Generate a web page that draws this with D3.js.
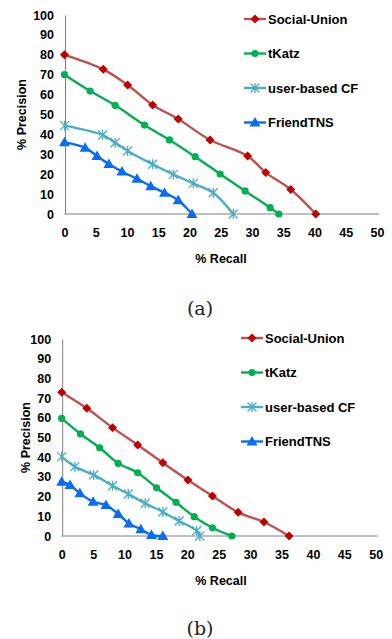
<!DOCTYPE html>
<html><head><meta charset="utf-8">
<script src="https://cdn.jsdelivr.net/npm/d3@7"></script>
<style>
html,body{margin:0;padding:0;background:#fff;}
svg{display:block;}
.tick text{font-family:"Liberation Sans",Arial,sans-serif;font-weight:bold;font-size:12.5px;fill:#000;}
</style></head>
<body>
<script>
// ---- data ----
const seriesNames = ["Social-Union", "tKatz", "user-based CF", "FriendTNS"];
const xTicks = [0,5,10,15,20,25,30,35,40,45,50];
const yTicks = [0,10,20,30,40,50,60,70,80,90,100];
const panelLabels = ["(a)", "(b)"];

// panel (a)
const aSocialRecall    = [0, 6.2, 10.1, 14.1, 18.2, 23.3, 29.3, 32.2, 36.2, 40.2];
const aSocialPrecision = [80, 72.7, 64.8, 54.8, 47.7, 37.2, 29.1, 20.8, 12.3, 0];
const aKatzRecall      = [0, 4.1, 8.1, 12.8, 16.8, 20.9, 24.9, 28.9, 32.9, 34.3];
const aKatzPrecision   = [70, 61.8, 54.6, 44.7, 37.2, 28.8, 20.1, 11.6, 3.2, 0];
const aCFRecall        = [0, 6.1, 8.1, 10.1, 14.1, 17.4, 20.6, 23.8, 27];
const aCFPrecision     = [44.4, 39.7, 35.8, 31.7, 25, 19.9, 15.4, 10.7, 0];
const aTNSRecall       = [0, 3.3, 5.2, 7.1, 9.2, 11.6, 13.8, 16, 18.2, 20.4];
const aTNSPrecision    = [36, 33.3, 29.1, 25.1, 21.3, 17.7, 14, 10.7, 6.9, 0];

// panel (b)
const bSocialRecall    = [0, 4.0, 8.1, 12.1, 16.1, 20.1, 24.0, 28.1, 32.2, 36.2];
const bSocialPrecision = [73, 64.8, 55, 46.2, 37.2, 28.4, 20.3, 12, 7.1, 0];
const bKatzRecall      = [0, 3.0, 6.05, 9.0, 12.1, 15.1, 18.2, 21.1, 24.0, 27.1];
const bKatzPrecision   = [59.7, 51.8, 44.8, 36.9, 32.1, 24.5, 17.1, 9.8, 4.2, 0];
const bCFRecall        = [0, 2.1, 5.1, 8.1, 10.6, 13.3, 16.1, 18.7, 21.5, 22.0];
const bCFPrecision     = [40.3, 35.2, 31, 25.5, 21.3, 16.6, 12.2, 7.6, 2.7, 0];
const bTNSRecall       = [0, 1.33, 2.9, 5.0, 7.05, 9.0, 10.7, 12.6, 14.3, 16.1];
const bTNSPrecision    = [27.6, 25.9, 21.7, 17.4, 15.7, 11.2, 6.4, 3.4, 0.5, 0];

// ---- styles ----
const lineColors   = ["#C0504D", "#00B050", "#4BACC6", "#0A6CF5"];
const markerColors = ["#C00000", "#00B050", "#4BACC6", "#0A6CF5"];
const markerTypes  = ["diamond", "circle", "star", "triangle"];

const W = 392, H = 639;
const svg = d3.select("body").append("svg").attr("width", W).attr("height", H);

const panels = [
  { x0: 64.5, x1: 377, y0: 214, y1: 15, leg: {x: 244, y: 19}, caption: {x: 200, y: 315},
    recall: [aSocialRecall, aKatzRecall, aCFRecall, aTNSRecall],
    precision: [aSocialPrecision, aKatzPrecision, aCFPrecision, aTNSPrecision] },
  { x0: 61.7, x1: 375.7, y0: 536, y1: 339, leg: {x: 241, y: 338}, caption: {x: 200, y: 635},
    recall: [bSocialRecall, bKatzRecall, bCFRecall, bTNSRecall],
    precision: [bSocialPrecision, bKatzPrecision, bCFPrecision, bTNSPrecision] }
];

function drawMarker(g, type, color, cx, cy) {
  if (type === "diamond") {
    g.append("path").attr("d", `M${cx},${cy-4.5}L${cx+4.5},${cy}L${cx},${cy+4.5}L${cx-4.5},${cy}Z`).attr("fill", color);
  } else if (type === "circle") {
    g.append("circle").attr("cx", cx).attr("cy", cy).attr("r", 3.6).attr("fill", color);
  } else if (type === "triangle") {
    g.append("path").attr("d", `M${cx},${cy-5.5}L${cx+5.5},${cy+4}L${cx-5.5},${cy+4}Z`).attr("fill", color);
  } else if (type === "star") {
    const r = 4.5;
    g.append("path").attr("d",
      `M${cx-r},${cy-r}L${cx+r},${cy+r}M${cx+r},${cy-r}L${cx-r},${cy+r}M${cx},${cy-r-0.5}L${cx},${cy+r+0.5}`)
      .attr("stroke", color).attr("stroke-width", 1.3).attr("fill", "none");
  }
}

panels.forEach((p, pi) => {
  const x = d3.scaleLinear().domain([0, 50]).range([p.x0, p.x1]);
  const y = d3.scaleLinear().domain([0, 100]).range([p.y0, p.y1]);
  const g = svg.append("g");

  // axes
  const ax = g.append("g").attr("transform", `translate(0,${p.y0})`)
    .call(d3.axisBottom(x).tickValues(xTicks).tickSize(0).tickPadding(14).tickFormat(d3.format("d")));
  ax.select(".domain").attr("stroke", "#808080").attr("d", `M${p.x0},0H${p.x1 + 2}`);
  const ay = g.append("g").attr("transform", `translate(${p.x0 + 0.5},0)`)
    .call(d3.axisLeft(y).tickValues(yTicks).tickSize(0).tickPadding(11).tickFormat(d3.format("d")));
  ay.select(".domain").attr("stroke", "#808080");

  // axis titles
  g.append("text").attr("x", 221).attr("y", p.y0 + 49)
    .attr("text-anchor", "middle").attr("font-family", "Liberation Sans, Arial, sans-serif")
    .attr("font-weight", "bold").attr("font-size", 12.5).text("% Recall");
  g.append("text").attr("transform", `translate(${pi === 0 ? 26 : 30},${(p.y0 + p.y1) / 2}) rotate(-90)`)
    .attr("text-anchor", "middle").attr("font-family", "Liberation Sans, Arial, sans-serif")
    .attr("font-weight", "bold").attr("font-size", 12.5).text("% Precision");

  // series
  const line = d3.line().x(d => x(d[0])).y(d => y(d[1])).curve(d3.curveCatmullRom.alpha(0.5));
  seriesNames.forEach((name, si) => {
    const pts = p.recall[si].map((r, i) => [r, p.precision[si][i]]);
    g.append("path").attr("d", line(pts)).attr("fill", "none")
      .attr("stroke", lineColors[si]).attr("stroke-width", 2.4);
    const mg = g.append("g");
    pts.forEach(d => drawMarker(mg, markerTypes[si], markerColors[si], x(d[0]), y(d[1])));
  });

  // legend
  seriesNames.forEach((name, si) => {
    const ly = p.leg.y + si * 34.5;
    const lg = g.append("g");
    lg.append("line").attr("x1", p.leg.x).attr("x2", p.leg.x + 22).attr("y1", ly).attr("y2", ly)
      .attr("stroke", lineColors[si]).attr("stroke-width", 2.4);
    drawMarker(lg, markerTypes[si], markerColors[si], p.leg.x + 11, ly);
    lg.append("text").attr("x", p.leg.x + 24).attr("y", ly + 4.5)
      .attr("font-family", "Liberation Sans, Arial, sans-serif").attr("font-weight", "bold")
      .attr("font-size", 13).text(name);
  });

  // caption
  svg.append("text").attr("x", p.caption.x).attr("y", p.caption.y).attr("text-anchor", "middle")
    .attr("font-family", "DejaVu Serif, serif").attr("font-size", 19).attr("fill", "#222")
    .text(panelLabels[pi]);
});
</script>
</body></html>
